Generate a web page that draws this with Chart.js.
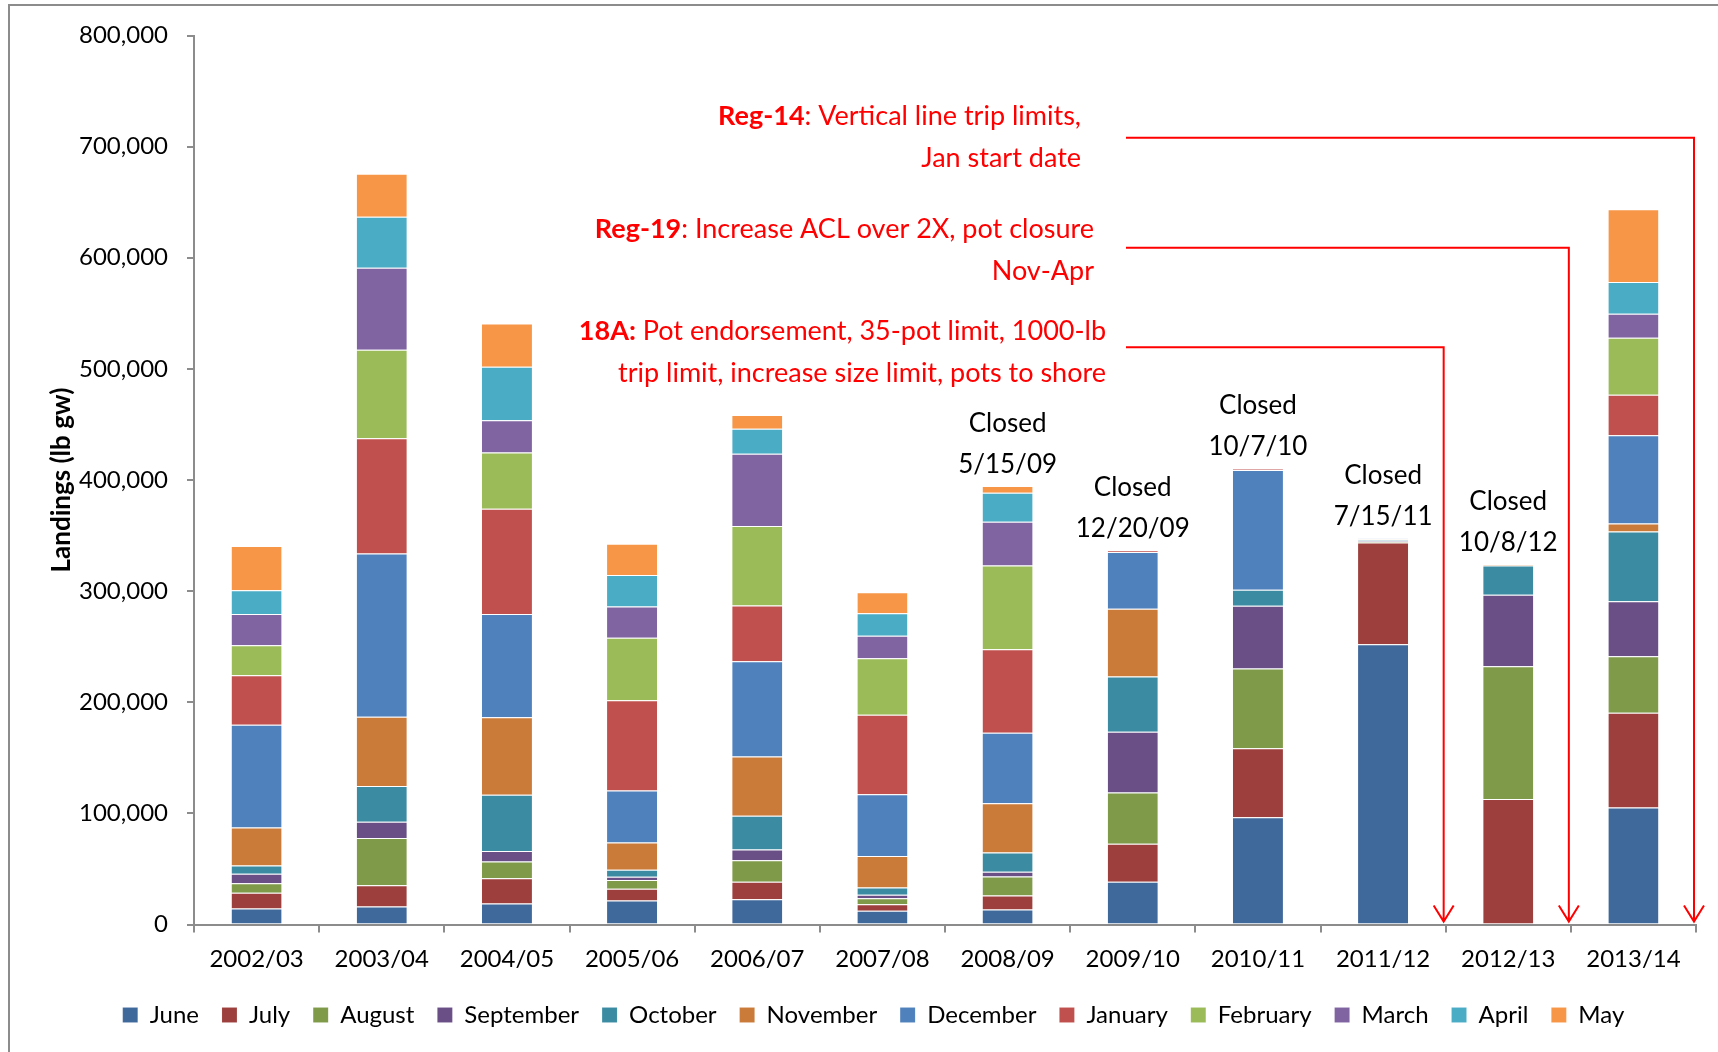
<!DOCTYPE html>
<html>
<head>
<meta charset="utf-8">
<title>Landings by month, 2002/03 - 2013/14</title>
<script src="https://cdn.jsdelivr.net/npm/chart.js@4.4.1/dist/chart.umd.min.js"></script>
<style>
  html, body { margin: 0; padding: 0; background: #fff; }
  #wrap { width: 1718px; height: 1052px; }
</style>
</head>
<body>
<div id="wrap"><canvas id="landingsChart" width="1718" height="1052"></canvas></div>
<script>
// ---------- DATA (lb gw per month, by fishing season) ----------
const seasons = ['2002/03', '2003/04', '2004/05', '2005/06', '2006/07', '2007/08',
                 '2008/09', '2009/10', '2010/11', '2011/12', '2012/13', '2013/14'];

const june      = [14300, 16100, 18800, 21500, 22700, 12300, 13500, 38400,  96600, 252300,      0, 105200];
const july      = [14300, 19200, 22800, 10700, 15800,  6000, 12600, 34200,  62100,  91400, 113000,  85400];
const august    = [ 8500, 42500, 15200,  7900, 19300,  5400, 17100, 46200,  71700,   1000, 119400,  50900];
const september = [ 8500, 14700,  9400,  2800,  9800,  3100,  4200, 54600,  56400,    800,  64300,  49500];
const october   = [ 7600, 32200, 50500,  6400, 30300,  6400, 17400, 49800,  14400,   1200,  26300,  62600];
const november  = [34000, 62200, 69700, 24600, 53300, 28400, 44400, 60900,      0,    400,    800,   7300];
const december  = [92500,147000, 93000, 46700, 85600, 55500, 63300, 51000, 107700,    300,      0,  79300];
const january   = [44700,103700, 94800, 81200, 50200, 71700, 75300,  1500,   1000,      0,      0,  36600];
const february  = [26800, 79600, 50500, 56200, 71700, 50900, 75300,     0,      0,      0,      0,  51300];
const march     = [28200, 73800, 29000, 28100, 65000, 20200, 39300,     0,      0,      0,      0,  21600];
const april     = [21400, 46000, 48300, 28400, 22500, 20200, 26100,     0,      0,      0,      0,  28500];
const may       = [39800, 38500, 38900, 28100, 12300, 18900,  6000,     0,      0,      0,      0,  65500];

const monthNames = ['June', 'July', 'August', 'September', 'October', 'November',
                    'December', 'January', 'February', 'March', 'April', 'May'];
const monthData  = [june, july, august, september, october, november,
                    december, january, february, march, april, may];

// closure dates written above the bars
const closedOn = [null, null, null, null, null, null, '5/15/09', '12/20/09', '10/7/10', '7/15/11', '10/8/12', null];

// regulatory amendments and where they take effect
const regCodes  = ['Reg-14', 'Reg-19', '18A:'];
const regLine1  = [': Vertical line trip limits,', ': Increase ACL over 2X, pot closure', ' Pot endorsement, 35-pot limit, 1000-lb'];
const regLine2  = ['Jan start date', 'Nov-Apr', 'trip limit, increase size limit, pots to shore'];
const regLevel  = [708000, 609000, 519500];
const regStarts = [11.5, 10.5, 9.5];

// ---------- STYLE ----------
const monthColors = ['#40699B', '#9D403D', '#7F9A48', '#694F86', '#3B8BA2', '#CB7B39',
                     '#4F81BD', '#C0504D', '#9BBB59', '#8064A2', '#4BACC6', '#F79646'];
const FONT = 'Lato, "Open Sans", sans-serif';
const AXIS_GREY = '#8c8c8c';

const totals = seasons.map((_, i) => monthData.reduce((s, m) => s + m[i], 0));

// draws the frame, closure notes and the amendment arrows
const notesPlugin = {
    id: 'notes',
    afterLayout(chart) {
        // nudge the legend row a little to the right
        chart.legend.left += 21;
        chart.legend.right += 21;
    },
    afterDatasetsDraw(chart) {
        const { ctx, scales: { x, y } } = chart;
        ctx.save();

        // frame
        ctx.strokeStyle = AXIS_GREY;
        ctx.lineWidth = 2;
        ctx.beginPath();
        ctx.moveTo(9, chart.height);
        ctx.lineTo(9, 5);
        ctx.lineTo(chart.width, 5);
        ctx.stroke();

        // "Closed" labels above the bars
        ctx.fillStyle = '#000';
        ctx.font = '26px ' + FONT;
        ctx.textAlign = 'center';
        ctx.textBaseline = 'middle';
        closedOn.forEach((d, i) => {
            if (!d) return;
            const cx = x.getPixelForValue(i);
            const top = y.getPixelForValue(totals[i]);
            ctx.fillText('Closed', cx, top - 63);
            ctx.fillText(d, cx, top - 22);
        });

        // amendment notes with elbow arrows
        const lineStart = 1126;
        const textGap = [45, 32, 20];
        const textShift = [0, 3, 5];
        const noteFont = '27px ' + FONT;
        ctx.strokeStyle = '#FF0000';
        ctx.fillStyle = '#FF0000';
        ctx.lineWidth = 2;
        ctx.textAlign = 'left';
        regCodes.forEach((code, i) => {
            const ly = y.getPixelForValue(regLevel[i]);
            const ax = x.getPixelForValue(regStarts[i]) - 2;
            const tip = y.getPixelForValue(0) - 3;

            ctx.beginPath();
            ctx.moveTo(lineStart, ly);
            ctx.lineTo(ax, ly);
            ctx.lineTo(ax, tip);
            ctx.moveTo(ax - 10, tip - 16);
            ctx.lineTo(ax, tip);
            ctx.lineTo(ax + 10, tip - 16);
            ctx.stroke();

            const right = lineStart - textGap[i];
            const ty = ly + textShift[i];
            ctx.font = 'bold ' + noteFont;
            const wb = ctx.measureText(code).width;
            ctx.font = noteFont;
            const wn = ctx.measureText(regLine1[i]).width;
            ctx.font = 'bold ' + noteFont;
            ctx.fillText(code, right - wn - wb, ty - 21);
            ctx.font = noteFont;
            ctx.fillText(regLine1[i], right - wn, ty - 21);
            ctx.textAlign = 'right';
            ctx.fillText(regLine2[i], right, ty + 21);
            ctx.textAlign = 'left';
        });

        ctx.restore();
    }
};

const datasets = monthNames.map((name, k) => ({
    label: name,
    data: monthData[k],
    backgroundColor: monthColors[k],
    borderColor: 'rgba(255,255,255,0.35)',
    borderWidth: { top: 1, left: 0, right: 0, bottom: 0 },
    borderSkipped: false,
    categoryPercentage: 1.0,
    barPercentage: 0.4
}));

const ctx = document.getElementById('landingsChart').getContext('2d');
window.landingsChart = new Chart(ctx, {
    type: 'bar',
    data: { labels: seasons, datasets: datasets },
    options: {
        responsive: false,
        animation: false,
        devicePixelRatio: 1,
        layout: { padding: { top: 35.5, right: 22, bottom: 15, left: 9 } },
        scales: {
            x: {
                stacked: true,
                grid: { drawOnChartArea: false, drawTicks: true, tickLength: 8, color: AXIS_GREY, lineWidth: 2 },
                border: { color: AXIS_GREY, width: 2 },
                ticks: { color: '#000', font: { family: FONT, size: 24 }, padding: 12, maxRotation: 0 },
                afterFit(scale) { scale.height = 55.5; }
            },
            y: {
                stacked: true,
                min: 0,
                max: 800000,
                grid: { drawOnChartArea: false, drawTicks: true, tickLength: 7, color: AXIS_GREY, lineWidth: 2 },
                border: { color: AXIS_GREY, width: 2 },
                ticks: {
                    stepSize: 100000,
                    color: '#000',
                    font: { family: FONT, size: 24 },
                    padding: 19,
                    callback: v => v.toLocaleString('en-US')
                },
                title: {
                    display: true,
                    text: 'Landings (lb gw)',
                    color: '#000',
                    font: { family: FONT, size: 26, weight: 'bold' },
                    padding: { top: 37, bottom: 0 }
                },
                afterFit(scale) { scale.width = 185; }
            }
        },
        plugins: {
            legend: {
                position: 'bottom',
                labels: {
                    color: '#000',
                    font: { family: FONT, size: 24 },
                    boxWidth: 15,
                    boxHeight: 15,
                    padding: 23
                }
            },
            tooltip: { enabled: false }
        }
    },
    plugins: [notesPlugin]
});
</script>
</body>
</html>
